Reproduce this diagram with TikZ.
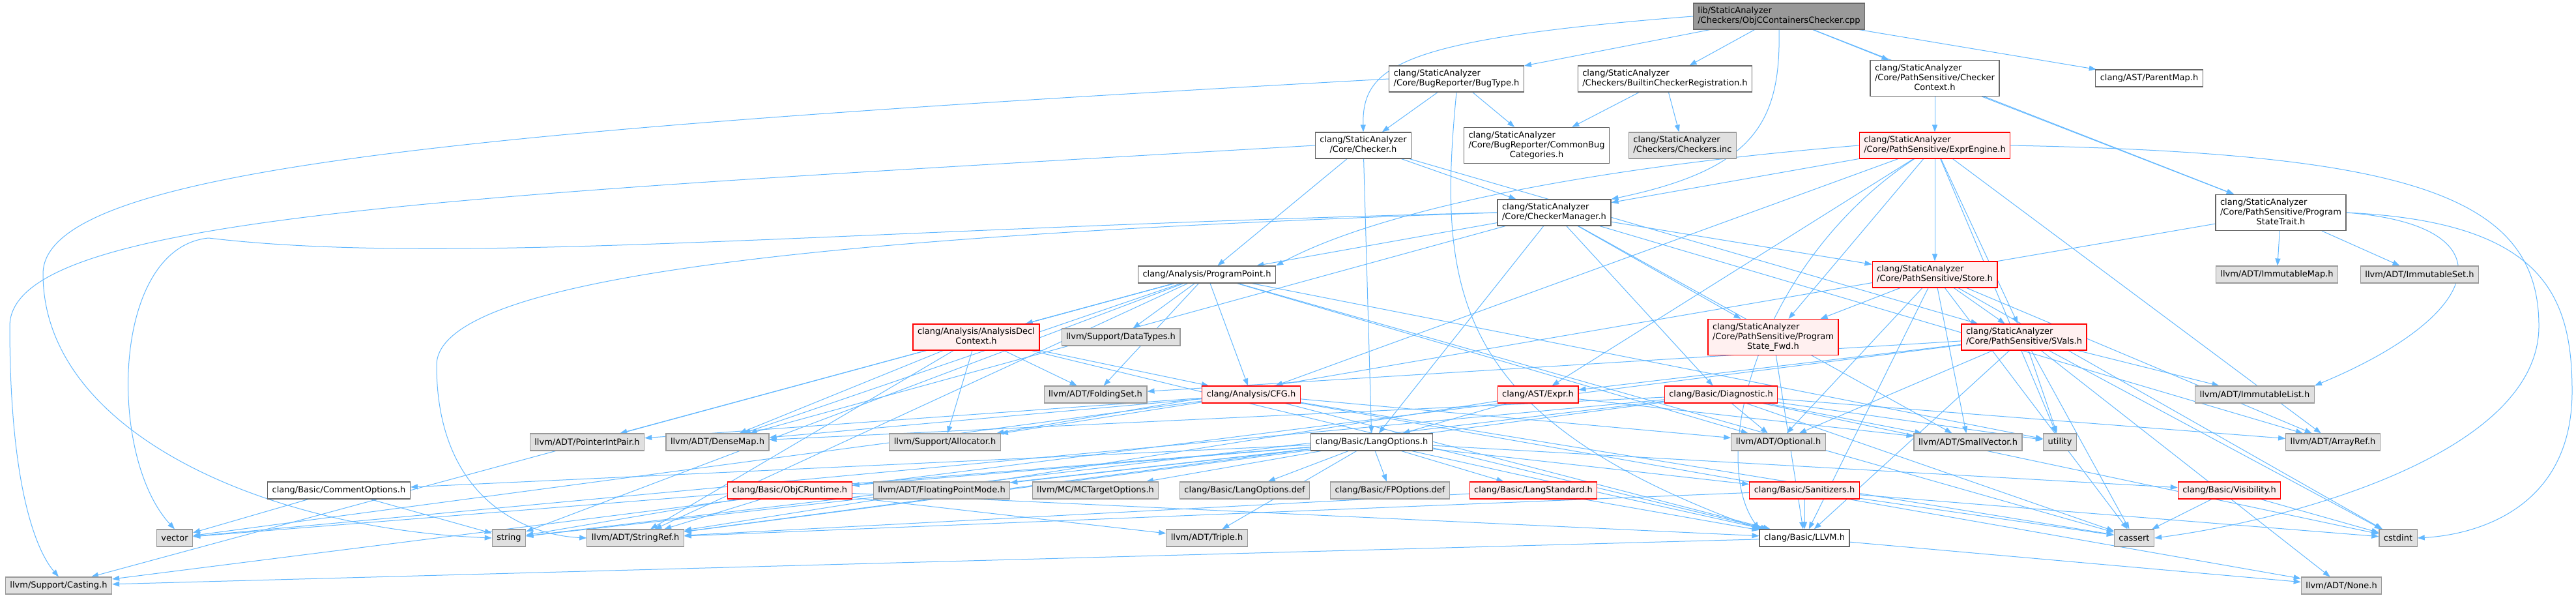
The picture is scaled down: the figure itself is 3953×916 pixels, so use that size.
\documentclass[tikz,border=0pt]{standalone}
\usepackage{fontspec}
\setmainfont{DejaVu Sans}
\usetikzlibrary{arrows.meta}
\pgfdeclarelayer{background}
\pgfsetlayers{background,main}

\definecolor{edgeblue}{HTML}{63B8FF}
\definecolor{darkborder}{HTML}{666666}
\definecolor{lightborder}{HTML}{999999}
\definecolor{sysfill}{HTML}{E0E0E0}
\definecolor{rootfill}{HTML}{999999}
\definecolor{cutfill}{HTML}{FFF0F0}

% first lines left, last line centred
\newcommand{\twoline}[2]{\begin{tabular}{@{}l@{}}#1\\\multicolumn{1}{@{}c@{}}{#2}\end{tabular}}

\tikzset{
  incfile/.style={draw=darkborder, fill=white, line width=1.2pt, inner xsep=7pt, inner ysep=5pt,
    minimum height=26pt, font=\fontsize{13}{15}\selectfont},
  rootfile/.style={incfile, fill=rootfill},
  sysfile/.style={incfile, draw=lightborder, fill=sysfill},
  cutfile/.style={incfile, draw=red, fill=cutfill},
  dep/.style={draw=edgeblue, line width=1pt, -{Triangle[length=11pt,width=8pt]}}
}

\begin{document}
\begin{tikzpicture}[x=1pt, y=-1pt]
\useasboundingbox (0,0) rectangle (3953,916);

% rank 0-2
\node[rootfile] (root) at (2730,25) {\twoline{lib/StaticAnalyzer}{/Checkers/ObjCContainersChecker.cpp}};
\node[incfile] (bugtype) at (2235,121) {\twoline{clang/StaticAnalyzer}{/Core/BugReporter/BugType.h}};
\node[incfile] (registration) at (2555,121) {\twoline{clang/StaticAnalyzer}{/Checkers/BuiltinCheckerRegistration.h}};
\node[incfile] (checkerctx) at (2969,120) {\twoline{clang/StaticAnalyzer\\/Core/PathSensitive/Checker}{Context.h}};
\node[incfile] (parentmap) at (3298,120) {clang/AST/ParentMap.h};
\node[incfile] (checker) at (2092,223) {\twoline{clang/StaticAnalyzer}{/Core/Checker.h}};
\node[incfile] (commonbug) at (2358,223) {\twoline{clang/StaticAnalyzer\\/Core/BugReporter/CommonBug}{Categories.h}};
\node[sysfile] (checkersinc) at (2582,223) {\twoline{clang/StaticAnalyzer}{/Checkers/Checkers.inc}};
\node[cutfile] (exprengine) at (2969,223) {\twoline{clang/StaticAnalyzer}{/Core/PathSensitive/ExprEngine.h}};

% rank 3-4
\node[incfile] (checkermgr) at (2385,326) {\twoline{clang/StaticAnalyzer}{/Core/CheckerManager.h}};
\node[incfile] (statetrait) at (3500,326) {\twoline{clang/StaticAnalyzer\\/Core/PathSensitive/Program}{StateTrait.h}};
\node[incfile] (progpoint) at (1852,421) {clang/Analysis/ProgramPoint.h};
\node[cutfile] (store) at (2969,421) {\twoline{clang/StaticAnalyzer}{/Core/PathSensitive/Store.h}};
\node[sysfile] (immmap) at (3494,421) {llvm/ADT/ImmutableMap.h};
\node[sysfile] (immset) at (3713,421) {llvm/ADT/ImmutableSet.h};

% rank 5-6
\node[cutfile] (declctx) at (1498,517) {\twoline{clang/Analysis/AnalysisDecl}{Context.h}};
\node[sysfile] (datatypes) at (1720,517) {llvm/Support/DataTypes.h};
\node[cutfile] (statefwd) at (2721,517) {\twoline{clang/StaticAnalyzer\\/Core/PathSensitive/Program}{State\_Fwd.h}};
\node[cutfile] (svals) at (3106,517) {\twoline{clang/StaticAnalyzer}{/Core/PathSensitive/SVals.h}};
\node[sysfile] (foldingset) at (1681,605) {llvm/ADT/FoldingSet.h};
\node[cutfile] (cfg) at (1920,605) {clang/Analysis/CFG.h};
\node[cutfile] (expr) at (2360,605) {clang/AST/Expr.h};
\node[cutfile] (diagnostic) at (2641,605) {clang/Basic/Diagnostic.h};
\node[sysfile] (immlist) at (3460,605) {llvm/ADT/ImmutableList.h};

% rank 7
\node[sysfile] (ptrintpair) at (901,678) {llvm/ADT/PointerIntPair.h};
\node[sysfile] (densemap) at (1101,678) {llvm/ADT/DenseMap.h};
\node[sysfile] (allocator) at (1450,678) {llvm/Support/Allocator.h};
\node[incfile] (langopts) at (2105,678) {clang/Basic/LangOptions.h};
\node[sysfile] (optional) at (2729,678) {llvm/ADT/Optional.h};
\node[sysfile] (smallvec) at (3020,678) {llvm/ADT/SmallVector.h};
\node[sysfile] (utility) at (3161,678) {utility};
\node[sysfile] (arrayref) at (3580,678) {llvm/ADT/ArrayRef.h};

% rank 8
\node[incfile] (commentopts) at (520,752) {clang/Basic/CommentOptions.h};
\node[cutfile] (objcrt) at (1212,752) {clang/Basic/ObjCRuntime.h};
\node[sysfile] (fpmode) at (1445,752) {llvm/ADT/FloatingPointMode.h};
\node[sysfile] (mcopts) at (1681,752) {llvm/MC/MCTargetOptions.h};
\node[sysfile] (langdef) at (1910,752) {clang/Basic/LangOptions.def};
\node[sysfile] (fpdef) at (2133,752) {clang/Basic/FPOptions.def};
\node[cutfile] (langstd) at (2353,752) {clang/Basic/LangStandard.h};
\node[cutfile] (sanitizers) at (2769,752) {clang/Basic/Sanitizers.h};
\node[cutfile] (visibility) at (3421,752) {clang/Basic/Visibility.h};

% rank 9-10
\node[sysfile] (vector) at (268,825) {vector};
\node[sysfile] (string) at (781,825) {string};
\node[sysfile] (stringref) at (975,825) {llvm/ADT/StringRef.h};
\node[sysfile] (triple) at (1852,825) {llvm/ADT/Triple.h};
\node[incfile] (llvm) at (2769,825) {clang/Basic/LLVM.h};
\node[sysfile] (cassert) at (3275,825) {cassert};
\node[sysfile] (cstdint) at (3680,825) {cstdint};
\node[sysfile] (casting) at (90,898) {llvm/Support/Casting.h};
\node[sysfile] (none) at (3593,898) {llvm/ADT/None.h};

\begin{pgfonlayer}{background}
% the checker file
\draw[dep] (root) -- (bugtype);
\draw[dep] (root) -- (registration);
\draw[dep] (root) -- (checkerctx);
\draw[dep] (root) -- (parentmap);
\draw[dep] (root.west) .. controls (2150,60) and (2090,100) .. (checker.north);
\draw[dep] (root.south) .. controls (2733,190) and (2690,260) .. (checkermgr.north east);
\draw[dep] (root) -- (statetrait);

\draw[dep] (bugtype) -- (checker);
\draw[dep] (bugtype) -- (commonbug);
\draw[dep] (bugtype.south) .. controls (2205,450) and (2230,640) .. (llvm.north west);
\draw[dep] (bugtype.west) .. controls (700,200) and (66,260) .. (66,420) .. controls (66,660) and (400,810) .. (string.west);

\draw[dep] (registration) -- (commonbug);
\draw[dep] (registration) -- (checkersinc);

\draw[dep] (checkerctx) -- (exprengine);
\draw[dep] (checkerctx) -- (statetrait);

\draw[dep] (checker) -- (progpoint);
\draw[dep] (checker) -- (langopts);
\draw[dep] (checker) -- (checkermgr);
\draw[dep] (checker) -- (svals);
\draw[dep] (checker.west) .. controls (700,300) and (15,330) .. (15,500) .. controls (15,760) and (60,850) .. (casting.north);

\draw[dep] (checkermgr) -- (progpoint);
\draw[dep] (checkermgr) -- (diagnostic);
\draw[dep] (checkermgr) -- (langopts);
\draw[dep] (checkermgr) -- (statefwd);
\draw[dep] (checkermgr) -- (store);
\draw[dep] (checkermgr) -- (arrayref);
\draw[dep] (checkermgr) -- (densemap);
\draw[dep] (checkermgr) -- (smallvec);
\draw[dep] (checkermgr.west) .. controls (1300,360) and (670,420) .. (670,560) .. controls (670,760) and (800,820) .. (stringref.west);
\draw[dep] (checkermgr.west) .. controls (1300,350) and (700,410) .. (320,365) .. controls (170,380) and (165,700) .. (vector.north);

\draw[dep] (exprengine) -- (checkermgr);
\draw[dep] (exprengine.west) .. controls (2400,260) and (2100,330) .. (progpoint.north east);
\draw[dep] (exprengine) -- (store);
\draw[dep] (exprengine) -- (svals);
\draw[dep] (exprengine) -- (statefwd);
\draw[dep] (exprengine) -- (expr);
\draw[dep] (exprengine) -- (cfg);
\draw[dep] (exprengine) .. controls (2700,400) and (2620,700) .. (llvm.north west);
\draw[dep] (exprengine) -- (arrayref);
\draw[dep] (exprengine) -- (utility);
\draw[dep] (exprengine.east) .. controls (3700,235) and (3896,300) .. (3896,500) .. controls (3896,700) and (3500,800) .. (cassert.east);

\draw[dep] (statetrait) -- (allocator);
\draw[dep] (statetrait.east) .. controls (3850,345) and (3820,480) .. (immlist.north east);
\draw[dep] (statetrait) -- (immmap);
\draw[dep] (statetrait) -- (immset);
\draw[dep] (statetrait.east) .. controls (3900,340) and (3947,450) .. (3947,600) .. controls (3947,780) and (3800,820) .. (cstdint.east);

\draw[dep] (progpoint) -- (declctx);
\draw[dep] (progpoint) -- (cfg);
\draw[dep] (progpoint) -- (densemap);
\draw[dep] (progpoint) -- (foldingset);
\draw[dep] (progpoint) -- (optional);
\draw[dep] (progpoint) -- (ptrintpair);
\draw[dep] (progpoint) -- (stringref);
\draw[dep] (progpoint) -- (casting);
\draw[dep] (progpoint) -- (datatypes);
\draw[dep] (progpoint) -- (cassert);
\draw[dep] (progpoint) -- (string);
\draw[dep] (progpoint) -- (utility);

\draw[dep] (store) -- (llvm);
\draw[dep] (store) -- (statefwd);
\draw[dep] (store) -- (svals);
\draw[dep] (store) -- (arrayref);
\draw[dep] (store) -- (optional);
\draw[dep] (store) -- (smallvec);
\draw[dep] (store) -- (cassert);
\draw[dep] (store) -- (cstdint);

\draw[dep] (declctx) -- (cfg);
\draw[dep] (declctx) -- (llvm);
\draw[dep] (declctx) -- (densemap);
\draw[dep] (declctx) -- (foldingset);
\draw[dep] (declctx) -- (stringref);
\draw[dep] (declctx) -- (allocator);

\draw[dep] (statefwd) -- (llvm);

\draw[dep] (svals) -- (expr);
\draw[dep] (svals) -- (llvm);
\draw[dep] (svals) -- (foldingset);
\draw[dep] (svals) -- (immlist);
\draw[dep] (svals) -- (none);
\draw[dep] (svals) -- (optional);
\draw[dep] (svals) -- (casting);
\draw[dep] (svals) -- (cassert);
\draw[dep] (svals) -- (cstdint);
\draw[dep] (svals) -- (utility);

\draw[dep] (cfg) -- (llvm);
\draw[dep] (cfg) -- (densemap);
\draw[dep] (cfg) -- (none);
\draw[dep] (cfg) -- (optional);
\draw[dep] (cfg) -- (ptrintpair);
\draw[dep] (cfg) -- (allocator);
\draw[dep] (cfg) -- (cassert);
\draw[dep] (cfg) -- (vector);

\draw[dep] (expr) -- (langopts);
\draw[dep] (expr) -- (smallvec);
\draw[dep] (expr) -- (stringref);

\draw[dep] (diagnostic) -- (arrayref);
\draw[dep] (diagnostic) -- (densemap);
\draw[dep] (diagnostic) -- (optional);
\draw[dep] (diagnostic) -- (smallvec);
\draw[dep] (diagnostic) -- (stringref);
\draw[dep] (diagnostic) -- (cassert);
\draw[dep] (diagnostic) -- (cstdint);
\draw[dep] (diagnostic) -- (string);
\draw[dep] (diagnostic) -- (utility);
\draw[dep] (diagnostic) -- (vector);

\draw[dep] (langopts) -- (commentopts);
\draw[dep] (langopts) -- (llvm);
\draw[dep] (langopts) -- (langstd);
\draw[dep] (langopts) -- (objcrt);
\draw[dep] (langopts) -- (sanitizers);
\draw[dep] (langopts) -- (visibility);
\draw[dep] (langopts) -- (fpmode);
\draw[dep] (langopts) -- (stringref);
\draw[dep] (langopts) -- (triple);
\draw[dep] (langopts) -- (mcopts);
\draw[dep] (langopts) -- (langdef);
\draw[dep] (langopts) -- (fpdef);
\draw[dep] (langopts) -- (string);
\draw[dep] (langopts) -- (vector);

\draw[dep] (commentopts) -- (string);
\draw[dep] (commentopts) -- (vector);

\draw[dep] (objcrt) -- (llvm);
\draw[dep] (objcrt) -- (stringref);
\draw[dep] (objcrt) -- (triple);
\draw[dep] (objcrt) -- (string);

\draw[dep] (langstd) -- (llvm);
\draw[dep] (langstd) -- (stringref);

\draw[dep] (sanitizers) -- (llvm);
\draw[dep] (sanitizers) -- (stringref);
\draw[dep] (sanitizers) -- (cassert);
\draw[dep] (sanitizers) -- (cstdint);

\draw[dep] (visibility) -- (cassert);
\draw[dep] (visibility) -- (cstdint);

\draw[dep] (llvm) -- (none);
\draw[dep] (llvm) -- (casting);
\end{pgfonlayer}

\end{tikzpicture}
\end{document}
